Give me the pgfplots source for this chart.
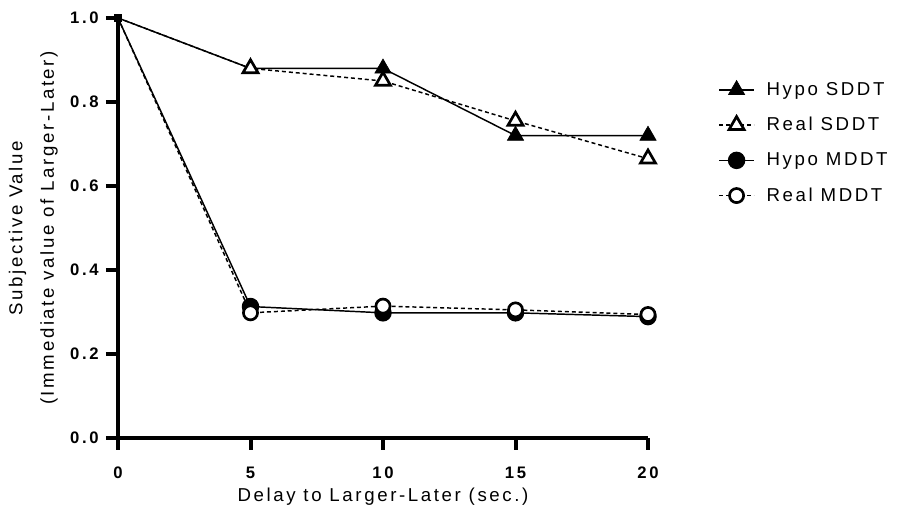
\documentclass[border=0pt]{standalone}
\usepackage{fontspec}
\setmainfont{Liberation Sans}
\newfontfamily\lsfont[LetterSpace=14]{Liberation Sans}
\newfontfamily\tkfont[LetterSpace=16]{Liberation Sans}
\usepackage{pgfplots}
\pgfplotsset{compat=1.18}
\begin{document}
\begin{tikzpicture}
\useasboundingbox (-88.5pt,-58.5pt) rectangle (597pt,328.5pt);
\begin{axis}[
  at={(0pt,0pt)}, anchor=south west,
  scale only axis, width=397.5pt, height=315pt,
  xmin=0, xmax=20, ymin=0, ymax=1.0,
  axis x line=bottom, axis y line=left,
  axis line style={line width=3pt, -},
  xtick={0,5,10,15,20},
  ytick={0,0.2,0.4,0.6,0.8,1.0},
  tick align=outside, major tick length=9pt,
  tick style={line width=3pt, black},
  /pgf/number format/assume math mode=true,
  yticklabel style={/pgf/number format/fixed, /pgf/number format/fixed zerofill, /pgf/number format/precision=1, xshift=-2pt},
  xticklabel style={yshift=-9pt},
  tick label style={font=\fontsize{12.5}{13}\tkfont\bfseries},
  xlabel={Delay to Larger-Later (sec.)},
  ylabel={Subjective Value\\(Immediate value of Larger-Later)},
  ylabel style={align=center, font=\fontsize{14}{23.5}\lsfont, yshift=2.5pt},
  xlabel style={font=\fontsize{14}{16}\lsfont, yshift=0pt},
  clip=false,
  legend style={at={(rel axis cs:1.125,0.86)}, anchor=north west, draw=none, fill=none,
    font=\fontsize{14}{16}\lsfont, row sep=11pt,
    /tikz/every odd column/.append style={column sep=7pt}},
  legend cell align=left,
  legend image code/.code={\draw[#1] plot coordinates {(0pt,0pt) (13pt,0pt) (26pt,0pt)};},
  legend image post style={mark indices={2}},
]
\addplot[black, line width=1.1pt, mark=triangle*, mark size=7pt, mark indices={2,3,4,5}, mark options={solid, fill=black, line width=0.5pt}]
 coordinates {(0,1.0) (5,0.88) (10,0.88) (15,0.72) (20,0.72)};
\addlegendentry{Hypo SDDT}
\addplot[black, line width=1.1pt, dash pattern=on 3pt off 2.2pt, mark=triangle*, mark size=6.5pt, mark indices={2,3,4,5}, mark options={solid, fill=white, line width=2pt}]
 coordinates {(0,1.0) (5,0.88) (10,0.85) (15,0.755) (20,0.665)};
\addlegendentry{Real SDDT}
\addplot[black, line width=1.1pt, mark=*, mark size=6pt, mark indices={2,3,4,5}, mark options={solid, fill=black}]
 coordinates {(0,1.0) (5,0.313) (10,0.298) (15,0.298) (20,0.289)};
\addlegendentry{Hypo MDDT}
\addplot[black, line width=1.1pt, dash pattern=on 3pt off 2.2pt, mark=*, mark size=5.3pt, mark indices={2,3,4,5}, mark options={solid, fill=white, line width=2pt}]
 coordinates {(0,1.0) (5,0.298) (10,0.314) (15,0.305) (20,0.294)};
\addlegendentry{Real MDDT}
\addplot[black, only marks, mark=square*, mark size=2.5pt, forget plot] coordinates {(0,1.0)};
\end{axis}
\end{tikzpicture}
\end{document}
